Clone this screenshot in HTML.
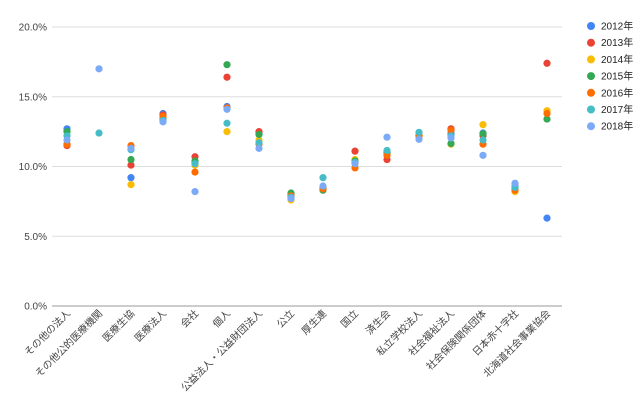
<!DOCTYPE html>
<html><head><meta charset="utf-8"><style>
body{margin:0;background:#fff;}
svg{font-family:"Liberation Sans","Noto Sans CJK JP",sans-serif;}
</style></head><body>
<svg id="chart" width="640" height="400" xmlns="http://www.w3.org/2000/svg"></svg>
<script>
const categories=["その他の法人","その他公的医療機関","医療生協","医療法人","会社","個人","公益法人・公益財団法人","公立","厚生連","国立","済生会","私立学校法人","社会福祉法人","社会保険関係団体","日本赤十字社","北海道社会事業協会"];
const seriesNames=["2012年","2013年","2014年","2015年","2016年","2017年","2018年"];
const s2012=[12.7,null,9.2,13.8,10.3,14.3,12.4,7.9,8.5,10.3,11.0,12.2,12.35,12.4,8.6,6.3];
const s2013=[11.5,null,10.1,13.7,10.7,16.4,12.5,8.0,8.4,11.1,10.5,12.2,12.7,12.2,8.4,17.4];
const s2014=[11.6,null,8.7,13.5,10.1,12.5,11.9,7.6,8.5,10.5,10.9,12.2,11.6,13.0,8.2,14.0];
const s2015=[12.5,null,10.5,13.4,10.4,17.3,12.3,8.1,8.3,10.4,11.0,12.2,11.65,12.35,8.4,13.4];
const s2016=[11.6,null,11.5,13.6,9.6,14.2,11.6,7.9,8.4,9.9,10.8,12.2,12.6,11.6,8.3,13.8];
const s2017=[12.2,12.4,11.2,13.3,10.2,13.1,11.7,7.8,9.2,10.3,11.15,12.45,12.2,11.9,8.5,null];
const s2018=[11.9,17.0,11.3,13.2,8.2,14.1,11.3,7.7,8.6,10.2,12.1,11.95,12.05,10.8,8.8,null];
const yTicks=[0,5,10,15,20];
const yTickLabels=["0.0%","5.0%","10.0%","15.0%","20.0%"];
const series=[s2012,s2013,s2014,s2015,s2016,s2017,s2018];
const colors=["#4285f4","#ea4335","#fbbc04","#34a853","#ff6d01","#46bdc6","#7baaf7"];
const NS="http://www.w3.org/2000/svg";
const svg=document.getElementById("chart");
const X0=52,X1=562,Y0=306,Y1=27;
const x=i=>67+i*(547-67)/(categories.length-1);
const y=v=>Y0-(v/20)*(Y0-Y1);
function mk(t,a){const e=document.createElementNS(NS,t);for(const k in a)e.setAttribute(k,a[k]);svg.appendChild(e);return e;}
yTicks.forEach((t,i)=>{
 const l=mk("line",{x1:X0,x2:X1,y1:y(t),y2:y(t),stroke:i==0?"#999":"#ddd","stroke-width":1});
 
 
 const tx=mk("text",{x:47,y:y(t)+3.5,"text-anchor":"end","font-size":"10",fill:"#444"});
 tx.textContent=yTickLabels[i];
 
 
});
categories.forEach((c,i)=>{
 const px=x(i)+4,py=314;
 const tx=mk("text",{x:px,y:py,"text-anchor":"end","font-size":"10",fill:"#444",transform:`rotate(-45 ${px} ${py})`});
 tx.textContent=c;
 
 
});
series.forEach((s,si)=>{
 s.forEach((v,i)=>{
  if(v==null)return;
  const c=mk("circle",{cx:x(i),cy:y(v),r:3.6,fill:colors[si]});
  
  
 });
});
seriesNames.forEach((n,i)=>{
 const cy=26+i*16.7;
 const c=mk("circle",{cx:591,cy:cy,r:4,fill:colors[i]});
 
 
 const t=mk("text",{x:601,y:cy+3.5,"font-size":"10",fill:"#222"});
 t.textContent=n;
 
 
});
</script>
</body></html>
